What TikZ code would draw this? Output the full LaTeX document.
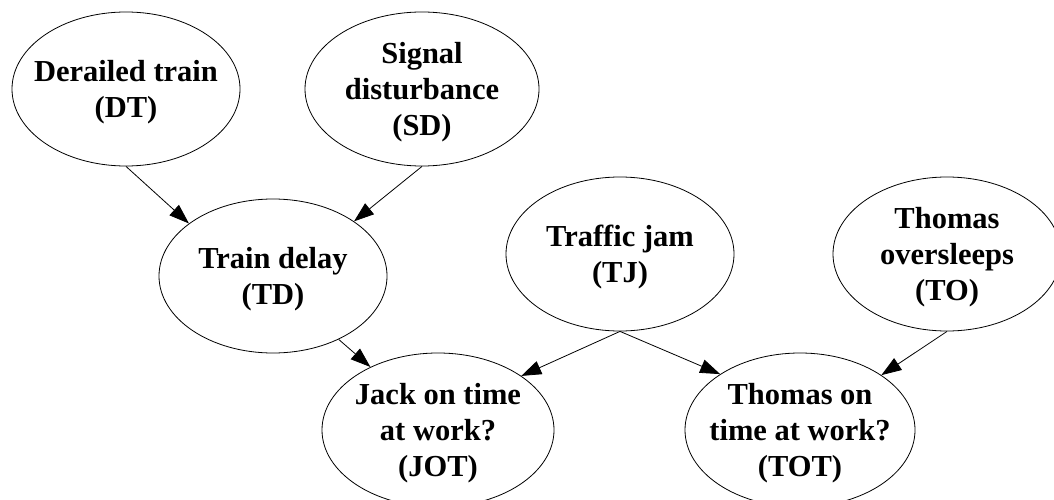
\documentclass[tikz,border=0pt]{standalone}
\usepackage{fontspec}
\setmainfont{Liberation Serif}
\usetikzlibrary{shapes.geometric,arrows.meta}
\begin{document}
\begin{tikzpicture}[x=1pt,y=-1pt,
  ell/.style={ellipse,draw=black,line width=0.8pt,inner sep=0pt,minimum width=228pt,minimum height=154pt},
  lbl/.style={align=center,inner sep=0pt,yshift=-3pt,font=\fontsize{30.5}{36}\selectfont\bfseries},
  edge/.style={draw=black,line width=0.8pt,-{Triangle[length=20pt,width=14pt]}}]
\useasboundingbox (0,0) rectangle (1054,500);
\node[ell,label={[lbl]center:{Derailed train\\(DT)}}] (DT) at (126,89) {};
\node[ell,minimum width=234pt,label={[lbl]center:{Signal\\disturbance\\(SD)}}] (SD) at (422,89) {};
\node[ell,label={[lbl]center:{Train delay\\(TD)}}] (TD) at (273,276) {};
\node[ell,label={[lbl]center:{Traffic jam\\(TJ)}}] (TJ) at (620,254) {};
\node[ell,label={[lbl]center:{Thomas\\oversleeps\\(TO)}}] (TO) at (947,254) {};
\node[ell,minimum width=232pt,label={[lbl]center:{Jack on time\\at work?\\(JOT)}}] (JOT) at (438,430) {};
\node[ell,minimum width=230pt,label={[lbl]center:{Thomas on\\time at work?\\(TOT)}}] (TOT) at (800,430) {};
\draw[edge] (DT.south) -- (TD.148);
\draw[edge] (SD.south) -- (TD.34);
\draw[edge] (TD.-44) -- (JOT.137.6);
\draw[edge] (TJ.south) -- (JOT.33);
\draw[edge] (TJ.south) -- (TOT.145);
\draw[edge] (TO.south) -- (TOT.34);
\end{tikzpicture}
\end{document}
